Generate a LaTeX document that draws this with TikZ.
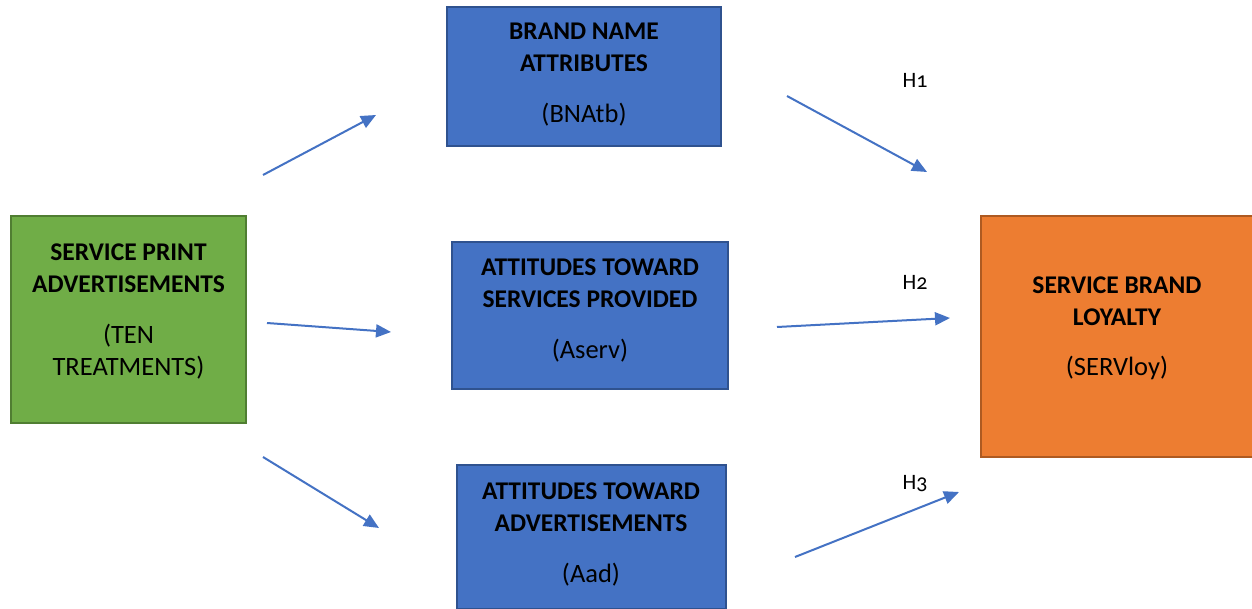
\documentclass[tikz,border=0pt]{standalone}
\usepackage{fontspec}
\setmainfont{Carlito}
\newfontfamily\hfont[Numbers=OldStyle]{Carlito}
\usetikzlibrary{arrows.meta}
\definecolor{boxblue}{HTML}{4472C4}
\definecolor{blueedge}{HTML}{2F528F}
\definecolor{boxgreen}{HTML}{70AD47}
\definecolor{greenedge}{HTML}{507E32}
\definecolor{boxorange}{HTML}{ED7D31}
\definecolor{orangeedge}{HTML}{AE5A21}
\newcommand{\headline}[1]{{\fontsize{25.5}{32}\selectfont\bfseries #1}}
\tikzset{
  box/.style={draw, line width=1.6pt, inner sep=0pt},
  bluebox/.style={box, fill=boxblue, draw=blueedge},
  boxtext/.style={align=center, font=\fontsize{26.5}{32}\selectfont, text=black, inner sep=0pt},
  link/.style={draw=boxblue, line width=2pt, -{Triangle[length=15pt,width=13pt]}},
  hyp/.style={font=\hfont\fontsize{22}{24}\selectfont, inner sep=0pt}
}
\begin{document}
\begin{tikzpicture}[x=1pt,y=-1pt]
  \useasboundingbox (0,0) rectangle (1252,609);
  \fill[white] (0,0) rectangle (1252,609);

  % boxes
  \node[box, fill=boxgreen, draw=greenedge, minimum width=235pt, minimum height=207pt] (spa) at (128.5,319.5) {};
  \node[bluebox, minimum width=274pt, minimum height=139pt] (bna) at (584,76.5) {};
  \node[bluebox, minimum width=276pt, minimum height=147pt] (asv) at (590,315.5) {};
  \node[bluebox, minimum width=269pt, minimum height=144pt] (aad) at (591.5,537) {};
  \node[box, fill=boxorange, draw=orangeedge, minimum width=275pt, minimum height=241pt] (sbl) at (1118.5,336.5) {};

  % box texts
  \node[boxtext] (spat) at (128.5,311.5) {\headline{SERVICE PRINT}\\\headline{ADVERTISEMENTS}\\[19pt](TEN\\TREATMENTS)};
  \node[boxtext] (bnat) at (584,74.5) {\headline{BRAND NAME}\\\headline{ATTRIBUTES}\\[19pt](BNAtb)};
  \node[boxtext] (asvt) at (590,310.5) {\headline{ATTITUDES TOWARD}\\\headline{SERVICES PROVIDED}\\[19pt](Aserv)};
  \node[boxtext] (aadt) at (591,534.5) {\headline{ATTITUDES TOWARD}\\\headline{ADVERTISEMENTS}\\[19pt](Aad)};
  \node[boxtext] (sblt) at (1117,328) {\headline{SERVICE BRAND}\\\headline{LOYALTY}\\[18pt](SERVloy)};

  % hypothesis labels
  \node[hyp] (h1) at (915,80) {H1};
  \node[hyp] (h2) at (915,282) {H2};
  \node[hyp] (h3) at (915,484) {H3};

  % arrow end points
  \coordinate (a1s) at (263,175);  \coordinate (a1e) at (376,115);
  \coordinate (a2s) at (267,323);  \coordinate (a2e) at (391,332);
  \coordinate (a3s) at (263,457);  \coordinate (a3e) at (379,528);
  \coordinate (a4s) at (787,96);   \coordinate (a4e) at (927,172);
  \coordinate (a5s) at (777,327);  \coordinate (a5e) at (950,318);
  \coordinate (a6s) at (795,557);  \coordinate (a6e) at (959,492);

  \draw[link] (a1s) -- (a1e);
  \draw[link] (a2s) -- (a2e);
  \draw[link] (a3s) -- (a3e);
  \draw[link] (a4s) -- (a4e);
  \draw[link] (a5s) -- (a5e);
  \draw[link] (a6s) -- (a6e);
\end{tikzpicture}
\end{document}
